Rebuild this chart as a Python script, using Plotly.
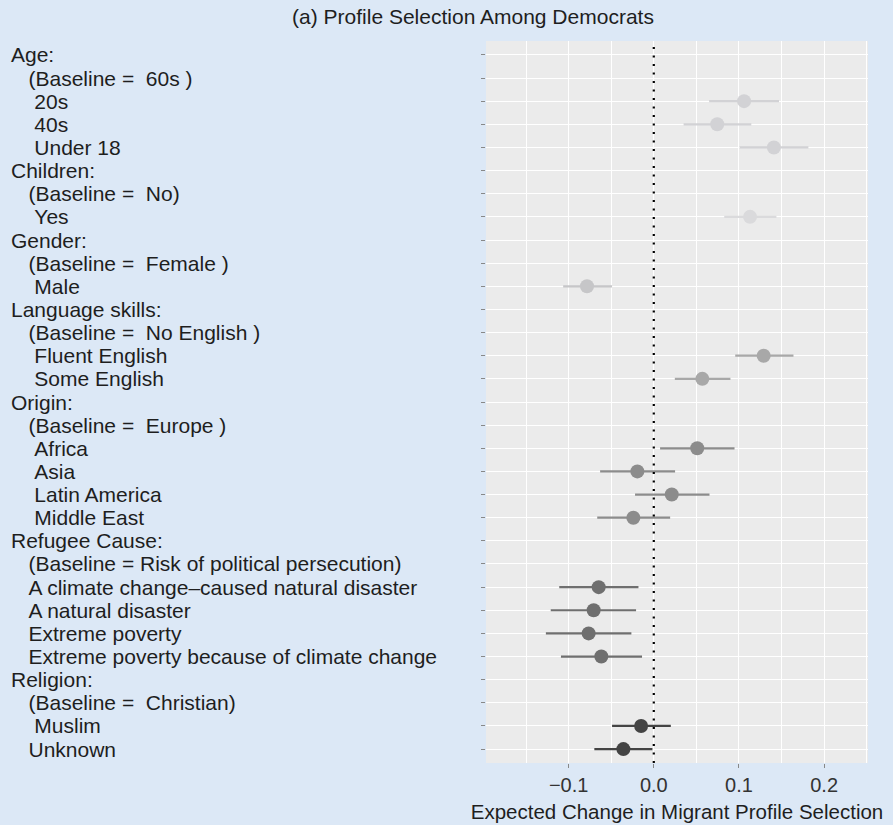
import plotly.graph_objects as go

# Conjoint estimates: one row per attribute header, baseline or level
NB = "\u00a0"
labels = [
    "Age:", NB * 3 + "(Baseline =" + NB * 2 + "60s )", NB * 4 + "20s", NB * 4 + "40s", NB * 4 + "Under 18",
    "Children:", NB * 3 + "(Baseline =" + NB * 2 + "No)", NB * 4 + "Yes",
    "Gender:", NB * 3 + "(Baseline =" + NB * 2 + "Female )", NB * 4 + "Male",
    "Language skills:", NB * 3 + "(Baseline =" + NB * 2 + "No English )", NB * 4 + "Fluent English", NB * 4 + "Some English",
    "Origin:", NB * 3 + "(Baseline =" + NB * 2 + "Europe )", NB * 4 + "Africa", NB * 4 + "Asia",
    NB * 4 + "Latin America", NB * 4 + "Middle East",
    "Refugee Cause:", NB * 3 + "(Baseline = Risk of political persecution)",
    NB * 3 + "A climate change\u2013caused natural disaster", NB * 3 + "A natural disaster",
    NB * 3 + "Extreme poverty", NB * 3 + "Extreme poverty because of climate change",
    "Religion:", NB * 3 + "(Baseline =" + NB * 2 + "Christian)", NB * 4 + "Muslim", NB * 3 + "Unknown",
]
groups = (["Age"] * 5 + ["Children"] * 3 + ["Gender"] * 3 + ["Language"] * 4 + ["Origin"] * 6
          + ["Refugee"] * 6 + ["Religion"] * 4)
estimate = [None, None, 0.106, 0.0745, 0.141,
            None, None, 0.113,
            None, None, -0.0784,
            None, None, 0.129, 0.057,
            None, None, 0.051, -0.0193, 0.0211, -0.024,
            None, None, -0.0647, -0.0706, -0.0765, -0.0616,
            None, None, -0.0149, -0.0357]
lower = [None, None, 0.065, 0.035, 0.1007,
         None, None, 0.0827,
         None, None, -0.1064,
         None, None, 0.0956, 0.0247,
         None, None, 0.0074, -0.063, -0.022, -0.0664,
         None, None, -0.111, -0.121, -0.1267, -0.109,
         None, None, -0.049, -0.0698]
upper = [None, None, 0.147, 0.1145, 0.1815,
         None, None, 0.144,
         None, None, -0.049,
         None, None, 0.164, 0.090,
         None, None, 0.0948, 0.025, 0.0654, 0.0192,
         None, None, -0.018, -0.0208, -0.0263, -0.0138,
         None, None, 0.020, -0.0016]
group_order = ["Age", "Children", "Gender", "Language", "Origin", "Refugee", "Religion"]
group_colors = {"Age": "#d2d2d5", "Children": "#dadadc", "Gender": "#c6c6c8", "Language": "#a8a8a8",
                "Origin": "#8c8c8c", "Refugee": "#6f6f6f", "Religion": "#444444"}
x_ticks = [-0.1, 0.0, 0.1, 0.2]
x_tick_text = ["\u22120.1", "0.0", "0.1", "0.2"]
x_minor = [-0.15, -0.05, 0.05, 0.15, 0.25]

W, H = 893, 825
ML, MR, MT, MB = 486, 25, 41, 62
plot_w = W - ML - MR
FONT = "Liberation Sans, Arial, sans-serif"

rows = list(range(len(labels)))
fig = go.Figure()

for g in group_order:
    idx = [i for i in rows if groups[i] == g and estimate[i] is not None]
    lx, ly = [], []
    for i in idx:
        lx += [lower[i], upper[i], None]
        ly += [i, i, None]
    fig.add_trace(go.Scatter(x=lx, y=ly, mode="lines", line=dict(color=group_colors[g], width=2.2),
                             hoverinfo="skip", showlegend=False))
    fig.add_trace(go.Scatter(x=[estimate[i] for i in idx], y=idx, mode="markers",
                             marker=dict(color=group_colors[g], size=14, line=dict(width=0)),
                             showlegend=False, name=g))

# dotted reference line at zero
fig.add_shape(type="line", xref="x", yref="paper", x0=0, x1=0, y0=0, y1=1,
              line=dict(color="black", width=2.2, dash="2px,6.5px"))

# left-aligned row labels
for i in rows:
    fig.add_annotation(text=labels[i], xref="paper", yref="y", x=(9 - ML) / plot_w, y=i,
                       xanchor="left", yanchor="middle", showarrow=False,
                       font=dict(family=FONT, size=21, color="#1e1e1e"))

fig.update_layout(
    width=W, height=H,
    margin=dict(l=ML, r=MR, t=MT, b=MB, autoexpand=False),
    paper_bgcolor="#dce8f6",
    plot_bgcolor="#ebebeb",
    title=dict(text="(a) Profile Selection Among Democrats", x=473 / W, xanchor="center",
               y=1 - 17 / H, yref="container", yanchor="middle",
               font=dict(family=FONT, size=21, color="#1e1e1e")),
    xaxis=dict(range=[-0.197, 0.2515], tickvals=x_ticks, ticktext=x_tick_text,
               showgrid=True, gridcolor="white", gridwidth=1.3, zeroline=False,
               ticks="outside", ticklen=4, tickcolor="#888888", tickwidth=1,
               tickfont=dict(family=FONT, size=20, color="#333333"),
               minor=dict(tickvals=x_minor, showgrid=True, gridcolor="white", gridwidth=0.7, ticks=""),
               title=dict(text="Expected Change in Migrant Profile Selection", standoff=9,
                          font=dict(family=FONT, size=20.5, color="#1e1e1e")),
               automargin=False, showline=False),
    yaxis=dict(range=[len(labels) - 0.4, -0.6], tickvals=rows, showticklabels=False,
               showgrid=True, gridcolor="white", gridwidth=1.3, zeroline=False,
               ticks="outside", ticklen=4, tickcolor="#888888", tickwidth=1, showline=False,
               automargin=False),
)

fig.write_html("out.html")
